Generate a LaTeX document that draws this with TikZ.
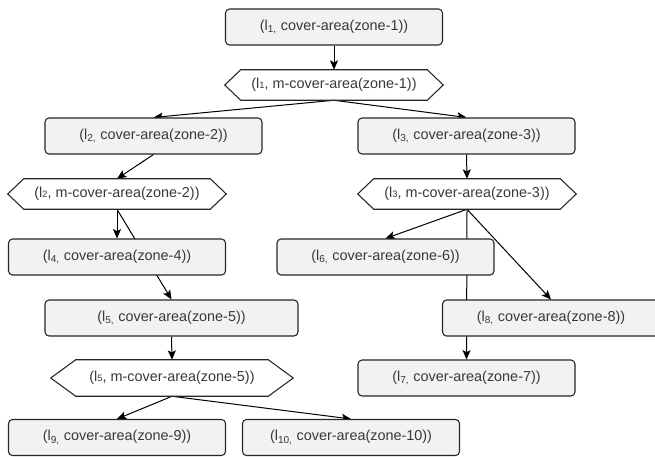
\documentclass[tikz,border=0pt]{standalone}
\usepackage{fontspec}
\setmainfont{Liberation Sans}
\usetikzlibrary{positioning, arrows.meta, backgrounds}

\begin{document}
\begin{tikzpicture}[x=0.75pt,y=0.75pt,yscale=-1,xscale=1,
  box/.style={draw=black!85, fill=black!5, rounded corners=3pt, line width=0.8pt, inner sep=0pt,
    minimum width=162.75pt, minimum height=27pt, text=black!78, font=\fontsize{10.8}{13}\selectfont},
  hexnode/.style={inner sep=0pt, minimum height=22.5pt, text=black!78, font=\fontsize{10.8}{13}\selectfont},
  hexline/.style={draw=black!85, line width=0.8pt, line join=miter},
  link/.style={line width=0.75pt, -{Stealth[length=7pt,width=6pt,inset=1.5pt]}}]
\useasboundingbox (0,0) rectangle (655,456);

% Boxes
\node [box] (l1) at (334,27) {(l\textsubscript{1,} cover-area(zone-1))};
\node [box] (l2) at (153.5,136) {(l\textsubscript{2,} cover-area(zone-2))};
\node [box] (l3) at (466.5,136) {(l\textsubscript{3,} cover-area(zone-3))};
\node [box] (l4) at (117,257) {(l\textsubscript{4,} cover-area(zone-4))};
\node [box] (l6) at (385.5,257) {(l\textsubscript{6,} cover-area(zone-6))};
\node [box, minimum width=189.75pt] (l5) at (171.5,318) {(l\textsubscript{5,} cover-area(zone-5))};
\node [box] (l8) at (551,318) {(l\textsubscript{8,} cover-area(zone-8))};
\node [box] (l7) at (466.5,378) {(l\textsubscript{7,} cover-area(zone-7))};
\node [box] (l9) at (117,437.5) {(l\textsubscript{9,} cover-area(zone-9))};
\node [box] (l10) at (351,437.5) {(l\textsubscript{10,} cover-area(zone-10))};

% Hexagons
\node [hexnode, minimum width=139.5pt] (h1) at (334,85) {(l{\scriptsize 1}, m-cover-area(zone-1))};
\node [hexnode, minimum width=139.5pt] (h2) at (117,194) {(l{\scriptsize 2}, m-cover-area(zone-2))};
\node [hexnode, minimum width=139.5pt] (h3) at (467,194) {(l{\scriptsize 3}, m-cover-area(zone-3))};
\node [hexnode, minimum width=144pt, minimum height=27pt] (h5) at (172,378) {(l{\scriptsize 5}, m-cover-area(zone-5))};

\draw [hexline] (h1.north west) -- (h1.north east) -- ([xshift=12pt]h1.east) -- (h1.south east) -- (h1.south west) -- ([xshift=-12pt]h1.west) -- cycle;
\draw [hexline] (h2.north west) -- (h2.north east) -- ([xshift=12pt]h2.east) -- (h2.south east) -- (h2.south west) -- ([xshift=-12pt]h2.west) -- cycle;
\draw [hexline] (h3.north west) -- (h3.north east) -- ([xshift=12pt]h3.east) -- (h3.south east) -- (h3.south west) -- ([xshift=-12pt]h3.west) -- cycle;
\draw [hexline] (h5.north west) -- (h5.north east) -- ([xshift=18.75pt]h5.east) -- (h5.south east) -- (h5.south west) -- ([xshift=-18.75pt]h5.west) -- cycle;

% Links (behind the boxes)
\begin{scope}[on background layer]
\draw [link] (l1) -- (h1);
\draw [link] (h1.south) -- (l2.north);
\draw [link] (h1.south) -- (l3.north);
\draw [link] (l2.south) -- (h2.north);
\draw [link] (l3.south) -- (h3.north);
\draw [link] (h2.south) -- (l4.north);
\draw [link] (h2.south) -- (l5.north);
\draw [link] (h3.south) -- (l6.north);
\draw [link] (h3.south) -- (l8.north);
\draw [link] (h3.south) -- (l7.north);
\draw [link] (l5.south) -- (h5.north);
\draw [link] (h5.south) -- (l9.north);
\draw [link] (h5.south) -- (l10.north);
\end{scope}
\end{tikzpicture}
\end{document}
